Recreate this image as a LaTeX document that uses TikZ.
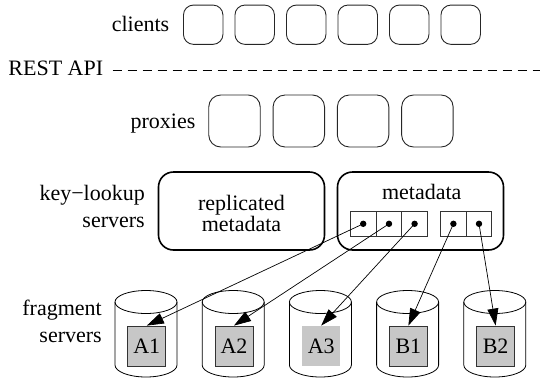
\documentclass[tikz,border=0pt]{standalone}
\usepackage{fontspec}
\setmainfont{Liberation Serif}
\usepackage{tikz}
\usetikzlibrary{positioning}
\usetikzlibrary{arrows.meta}

\tikzset{
  txt/.style={font=\fontsize{22}{27}\selectfont, inner sep=0pt},
  smallbox/.style={draw=black!85, line width=0.9pt, rounded corners=10pt, inner sep=0pt},
  bigbox/.style={draw, line width=1.6pt, rounded corners=15pt, minimum width=166pt, minimum height=78pt, inner sep=0pt},
  cell/.style={draw=black!80, line width=0.8pt, minimum width=25.7pt, minimum height=25.7pt, inner sep=0pt},
  frag/.style={draw=black!80, line width=0.8pt, fill=black!22, minimum width=38pt, minimum height=40pt, inner sep=0pt, font=\fontsize{22}{27}\selectfont},
  fragcopy/.style={frag, draw=none},
  ptr/.style={line width=0.7pt, -{Triangle[length=17pt,width=11pt]}}
}

\begin{document}
\begin{tikzpicture}[x=1pt,y=1pt]
  \useasboundingbox (0,0) rectangle (540,-381);

  \node[txt, anchor=base] (clientslbl) at (140.5,-31.7) {clients};
  \foreach \i in {0,...,5} {
    \node[smallbox, minimum width=39.5pt, minimum height=39.3pt] (c\i) at ({203.2+51.5*\i},-24.7) {};
  }

  \node[txt, anchor=base] (rest) at (55.8,-75) {REST API};
  \coordinate (restend) at (540,-70);
  \draw[line width=0.8pt, dash pattern=on 9pt off 6pt] (112.7,-70) -- (restend);

  \node[txt, anchor=base] (proxieslbl) at (163,-128) {proxies};
  \foreach \i in {0,...,3} {
    \node[smallbox, rounded corners=12pt, minimum width=51.5pt, minimum height=52pt] (p\i) at ({234.5+64.3*\i},-121) {};
  }

  \node[txt, align=right, anchor=east] (keylbl) at (145,-206.5) {key−lookup\\servers};
  \node[bigbox] (repl) at (241.5,-211) {};
  \node[txt, align=center, font=\fontsize{22}{21}\selectfont] (repllbl) at (241.5,-213) {replicated\\metadata};
  \node[bigbox] (meta) at (420.5,-211) {};
  \node[txt, anchor=base] (metalbl) at (421.7,-199) {metadata};
  \foreach \x [count=\i] in {363.2,389,414.6,453.4,479} {
    \node[cell] (m\i) at (\x,-223.8) {};
    \fill (m\i.center) circle (3.2);
  }

  \node[txt, align=right, anchor=east] (fraglbl) at (102,-321) {fragment\\servers};
  \foreach \n/\s [count=\i from 0] in {A1/frag,A2/frag,A3/fragcopy,B1/frag,B2/frag} {
    \pgfmathsetmacro\cx{146+87.2*\i}
    \draw[line width=0.8pt] (\cx-31,-302) -- (\cx-31,-365)
      arc[start angle=180, end angle=360, x radius=31, y radius=12] -- (\cx+31,-302);
    \draw[line width=0.8pt] (\cx,-302) ellipse [x radius=31, y radius=11.5];
    \node[\s] (\n) at (\cx+0.8,-346) {\n};
  }

  \foreach \i/\n in {1/A1,2/A2,3/A3,4/B1,5/B2} {
    \draw[ptr] (m\i.center) -- (\n.north);
  }
\end{tikzpicture}
\end{document}
